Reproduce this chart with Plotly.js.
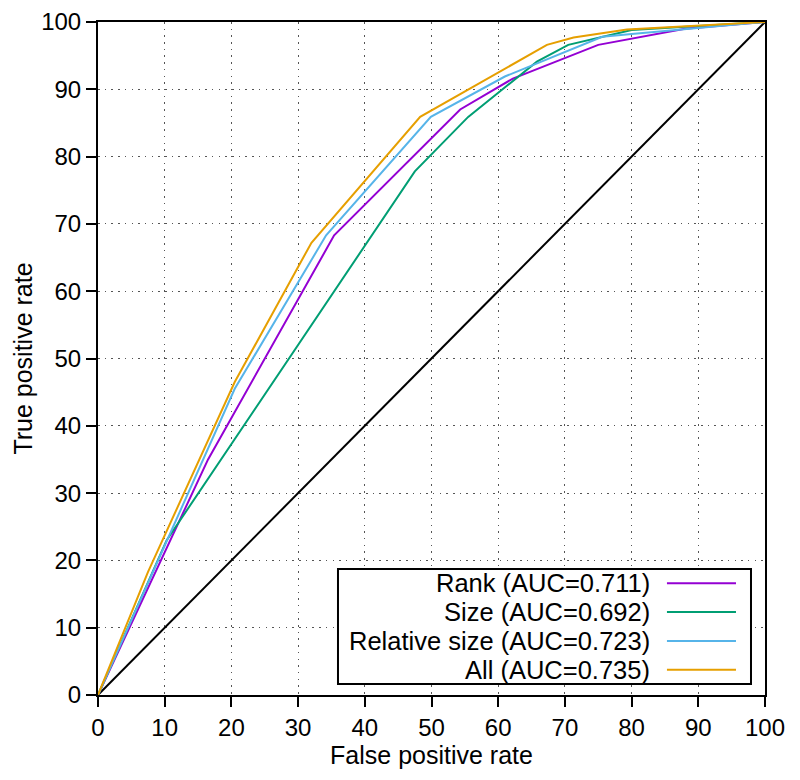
<!DOCTYPE html>
<html>
<head>
<meta charset="utf-8">
<script src="https://cdn.plot.ly/plotly-3.0.1.min.js"></script>
<style>html,body{margin:0;padding:0;background:#fff;}#chart{width:800px;height:780px;}</style>
</head>
<body>
<div id="chart"></div>
<script>
// ROC curves (false positive rate %, true positive rate %)
const rankFPR = [0, 16.5, 35.4, 54.3, 62.2, 75.0, 88.0, 100];
const rankTPR = [0, 35.0, 68.3, 87.0, 91.6, 96.6, 99.0, 100];

const sizeFPR = [0, 10.3, 47.5, 55.5, 65.8, 70.5, 80.0, 100];
const sizeTPR = [0, 23.0, 77.8, 85.9, 94.1, 96.6, 98.8, 100];

const relFPR = [0, 20.5, 34.2, 49.9, 61.0, 75.6, 80.0, 100];
const relTPR = [0, 45.5, 68.3, 85.9, 91.9, 97.8, 98.2, 100];

const allFPR = [0, 7.5, 20.5, 32.0, 48.3, 67.3, 71.3, 79.3, 100];
const allTPR = [0, 18.3, 46.5, 67.2, 85.9, 96.6, 97.7, 98.9, 100];

const diagFPR = [0, 100];
const diagTPR = [0, 100];

const seriesNames = ["Rank (AUC=0.711)", "Size (AUC=0.692)", "Relative size (AUC=0.723)", "All (AUC=0.735)"];
const seriesColors = ["#9400D3", "#009E73", "#56B4E9", "#E69F00"];
const xTicks = [0, 10, 20, 30, 40, 50, 60, 70, 80, 90, 100];
const yTicks = [0, 10, 20, 30, 40, 50, 60, 70, 80, 90, 100];

const xs = [rankFPR, sizeFPR, relFPR, allFPR];
const ys = [rankTPR, sizeTPR, relTPR, allTPR];

const traces = [{
  x: diagFPR, y: diagTPR, mode: 'lines', showlegend: false,
  line: {color: '#000000', width: 2}, hoverinfo: 'skip'
}];
for (let i = 0; i < 4; i++) {
  traces.push({
    x: xs[i], y: ys[i], mode: 'lines', name: seriesNames[i],
    line: {color: seriesColors[i], width: 2}, showlegend: false
  });
}

// custom legend (text right, sample line on the right, like the original)
const legX0 = 0.3598, legX1 = 0.979, legY0 = 0.0163, legY1 = 0.1872;
const rowY = [0.166, 0.1233, 0.0802, 0.0376];
const textRight = 0.830, lineX0 = 0.853, lineX1 = 0.9565;

const shapes = [{
  type: 'rect', xref: 'paper', yref: 'paper', x0: legX0, x1: legX1, y0: legY0, y1: legY1,
  line: {color: '#000', width: 2}, fillcolor: '#ffffff', layer: 'above'
}];
const annotations = [];
for (let i = 0; i < 4; i++) {
  shapes.push({
    type: 'line', xref: 'paper', yref: 'paper', x0: lineX0, x1: lineX1, y0: rowY[i], y1: rowY[i],
    line: {color: seriesColors[i], width: 2}, layer: 'above'
  });
  annotations.push({
    xref: 'paper', yref: 'paper', x: textRight, y: rowY[i], xanchor: 'right', yanchor: 'middle',
    text: seriesNames[i], showarrow: false,
    font: {family: 'Liberation Sans, Arial, sans-serif', size: 25.5, color: '#000'}
  });
}

const axisCommon = {
  range: [0, 100], showline: true, linecolor: '#000', linewidth: 2, mirror: true,
  ticks: 'outside', ticklen: 10, tickwidth: 2, tickcolor: '#000',
  showgrid: true, gridcolor: '#555555', gridwidth: 1, griddash: '1.5px,5.2px',
  zeroline: false, tickfont: {family: 'Liberation Sans, Arial, sans-serif', size: 24, color: '#000'},
  tickmode: 'array'
};

const layout = {
  width: 800, height: 780,
  margin: {l: 98, r: 35, t: 22, b: 85},
  paper_bgcolor: '#fff', plot_bgcolor: '#fff',
  showlegend: false,
  font: {family: 'Liberation Sans, Arial, sans-serif', color: '#000'},
  xaxis: Object.assign({}, axisCommon, {
    tickvals: xTicks, ticktext: xTicks.map(String),
    title: {text: 'False positive rate', font: {size: 25, color: '#000'}, standoff: 5}
  }),
  yaxis: Object.assign({}, axisCommon, {
    tickvals: yTicks, ticktext: yTicks.map(String),
    title: {text: 'True positive rate', font: {size: 25, color: '#000'}, standoff: 1}
  }),
  shapes: shapes,
  annotations: annotations
};

Plotly.newPlot('chart', traces, layout, {displayModeBar: false, staticPlot: true});
</script>
</body>
</html>
